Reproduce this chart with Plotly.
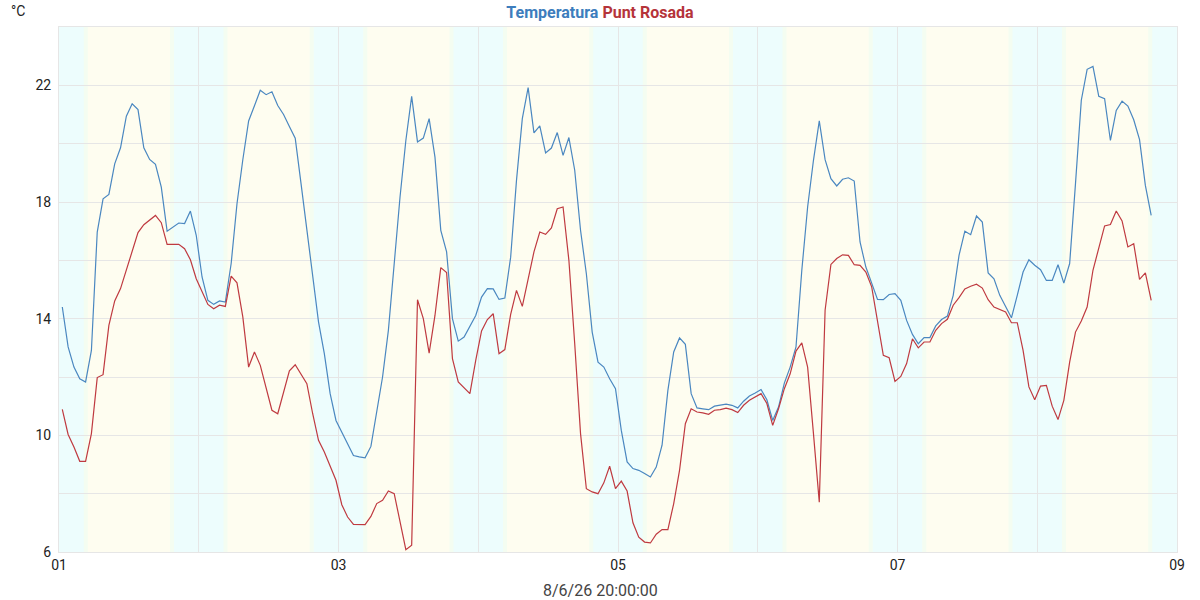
import plotly.graph_objects as go
import pandas as pd

# ---- data (hourly readings, first at 2026-08-01 00:34) ----
temperatura = [
    14.4, 13.03, 12.34, 11.94, 11.83, 12.91, 16.97, 18.11, 18.26, 19.31,
    19.86, 20.94, 21.37, 21.17, 19.86, 19.46, 19.29, 18.51, 17.0, 17.14,
    17.28, 17.26, 17.69, 16.86, 15.43, 14.63, 14.49, 14.61, 14.57, 15.89,
    17.94, 19.45, 20.78, 21.3, 21.83, 21.68, 21.78, 21.31, 21.0, 20.59,
    20.19, 18.63, 17.03, 15.54, 13.89, 12.8, 11.43, 10.51, 10.11, 9.71,
    9.31, 9.26, 9.23, 9.62, 10.74, 12.0, 13.6, 15.89, 18.17, 20.11,
    21.62, 20.06, 20.19, 20.86, 19.54, 17.03, 16.29, 14.0, 13.23, 13.37,
    13.74, 14.11, 14.74, 15.03, 15.02, 14.66, 14.71, 16.11, 18.74, 20.86,
    21.92, 20.37, 20.61, 19.68, 19.85, 20.38, 19.6, 20.21, 19.09, 17.03,
    15.54, 13.54, 12.51, 12.34, 11.94, 11.6, 10.17, 9.09, 8.86, 8.8,
    8.69, 8.57, 8.91, 9.66, 11.54, 12.86, 13.34, 13.12, 11.43, 10.94,
    10.91, 10.88, 11.0, 11.03, 11.07, 11.03, 10.94, 11.17, 11.35, 11.45,
    11.57, 11.22, 10.51, 10.97, 11.79, 12.34, 13.03, 15.66, 17.83, 19.43,
    20.78, 19.45, 18.8, 18.55, 18.78, 18.83, 18.72, 16.63, 15.77, 15.22,
    14.66, 14.65, 14.83, 14.86, 14.63, 13.94, 13.46, 13.14, 13.35, 13.35,
    13.75, 13.97, 14.09, 14.8, 16.17, 17.0, 16.88, 17.52, 17.31, 15.57,
    15.37, 14.8, 14.4, 14.03, 14.8, 15.6, 16.02, 15.83, 15.68, 15.31,
    15.31, 15.85, 15.22, 15.89, 18.63, 21.49, 22.55, 22.65, 21.62, 21.54,
    20.11, 21.14, 21.46, 21.29, 20.82, 20.14, 18.57, 17.54,
]

punt_rosada = [
    10.89, 10.03, 9.6, 9.11, 9.11, 10.06, 11.98, 12.08, 13.77, 14.61,
    15.03, 15.66, 16.29, 16.95, 17.22, 17.37, 17.54, 17.29, 16.55, 16.55,
    16.55, 16.4, 16.02, 15.37, 14.91, 14.49, 14.34, 14.46, 14.42, 15.46,
    15.23, 14.06, 12.34, 12.86, 12.4, 11.6, 10.86, 10.74, 11.49, 12.21,
    12.42, 12.11, 11.77, 10.74, 9.83, 9.43, 8.97, 8.46, 7.62, 7.2,
    6.95, 6.94, 6.94, 7.22, 7.66, 7.77, 8.09, 8.0, 7.09, 6.08,
    6.23, 14.65, 14.0, 12.82, 14.11, 15.75, 15.58, 12.63, 11.83, 11.62,
    11.43, 12.57, 13.58, 13.97, 14.17, 12.8, 12.94, 14.15, 14.97, 14.42,
    15.37, 16.29, 16.97, 16.89, 17.11, 17.77, 17.83, 16.0, 13.14, 10.06,
    8.17, 8.06, 8.0, 8.37, 8.94, 8.17, 8.43, 8.09, 7.0, 6.51,
    6.34, 6.31, 6.61, 6.77, 6.77, 7.66, 8.8, 10.4, 10.91, 10.8,
    10.77, 10.72, 10.86, 10.88, 10.93, 10.88, 10.78, 11.03, 11.2, 11.31,
    11.43, 11.09, 10.34, 10.91, 11.6, 12.11, 12.89, 13.17, 12.34, 10.06,
    7.71, 14.29, 15.86, 16.06, 16.19, 16.17, 15.85, 15.83, 15.6, 15.09,
    13.94, 12.74, 12.66, 11.85, 12.02, 12.46, 13.31, 13.0, 13.2, 13.2,
    13.6, 13.83, 13.98, 14.46, 14.72, 15.02, 15.11, 15.18, 15.05, 14.65,
    14.4, 14.32, 14.23, 13.86, 13.86, 12.91, 11.66, 11.22, 11.69, 11.71,
    11.0, 10.54, 11.2, 12.51, 13.54, 13.92, 14.4, 15.66, 16.46, 17.18,
    17.23, 17.69, 17.35, 16.46, 16.57, 15.35, 15.57, 14.63,
]

days = ["2026-08-01", "2026-08-02", "2026-08-03", "2026-08-04",
        "2026-08-05", "2026-08-06", "2026-08-07", "2026-08-08"]
sunrise_h = 4.6
sunset_h = 19.4

start = pd.Timestamp("2026-08-01 00:34")
times = [start + pd.Timedelta(hours=i) for i in range(len(temperatura))]

BLUE = "#4a87c0"
RED = "#bf3a40"
CYAN = "#edfdfd"
YELLOW = "#fefdf0"
BLEND = "#f4fdf1"
GRID = "#e6e6e6"

fig = go.Figure()
fig.add_trace(go.Scatter(x=times, y=temperatura, mode="lines", name="Temperatura",
                         line=dict(color=BLUE, width=1.2)))
fig.add_trace(go.Scatter(x=times, y=punt_rosada, mode="lines", name="Punt Rosada",
                         line=dict(color=RED, width=1.2)))

shapes = []
for d in days:
    d0 = pd.Timestamp(d)
    rise = d0 + pd.Timedelta(hours=sunrise_h)
    sset = d0 + pd.Timedelta(hours=sunset_h)
    shapes.append(dict(type="rect", xref="x", yref="paper", x0=rise, x1=sset,
                       y0=0, y1=1, fillcolor=YELLOW, line=dict(width=0), layer="below"))
    for edge in (rise, sset):
        shapes.append(dict(type="rect", xref="x", yref="paper",
                           x0=edge - pd.Timedelta(hours=0.35),
                           x1=edge + pd.Timedelta(hours=0.35),
                           y0=0, y1=1, fillcolor=BLEND, line=dict(width=0), layer="below"))

fig.update_layout(
    width=1200, height=600,
    margin=dict(l=59, r=23, t=27, b=48),
    paper_bgcolor="white",
    plot_bgcolor=CYAN,
    showlegend=False,
    shapes=shapes,
    font=dict(family="Roboto", size=14, color="#222222"),
    title=dict(
        text="<b><span style='color:#3d7dbd'>Temperatura</span> "
             "<span style='color:#b5343a'>Punt Rosada</span></b>",
        x=0.5, xref="container", xanchor="center",
        y=1 - 12 / 600, yref="container", yanchor="middle",
        font=dict(family="Roboto", size=16),
    ),
    xaxis=dict(
        type="date",
        range=["2026-08-01", "2026-08-09"],
        tick0="2026-08-01", dtick=2 * 86400000, tickformat="%d",
        showgrid=True, gridcolor=GRID, gridwidth=1,
        minor=dict(dtick=86400000, showgrid=True, gridcolor=GRID, gridwidth=1),
        showline=True, linecolor=GRID, mirror=True,
        zeroline=False, ticks="", ticklen=0,
        tickfont=dict(family="Roboto", size=14, color="#222222"),
    ),
    yaxis=dict(
        range=[6, 24],
        tick0=6, dtick=4,
        showgrid=True, gridcolor=GRID, gridwidth=1,
        minor=dict(dtick=2, showgrid=True, gridcolor=GRID, gridwidth=1),
        showline=True, linecolor=GRID, mirror=True,
        zeroline=False, ticks="", ticklen=0,
        ticklabelstandoff=4,
        tickfont=dict(family="Roboto", size=14, color="#222222"),
    ),
    annotations=[
        dict(text="°C", xref="paper", yref="paper",
             x=(18 - 59) / 1118, y=(552 - 11) / 525,
             xanchor="center", yanchor="middle", showarrow=False,
             font=dict(family="Roboto", size=14, color="#222222")),
        dict(text="8/6/26 20:00:00", xref="paper", yref="paper",
             x=(600 - 59) / 1118, y=(552 - 590) / 525,
             xanchor="center", yanchor="middle", showarrow=False,
             font=dict(family="Roboto", size=16, color="#444444")),
    ],
)

fig.write_html("out.html")
